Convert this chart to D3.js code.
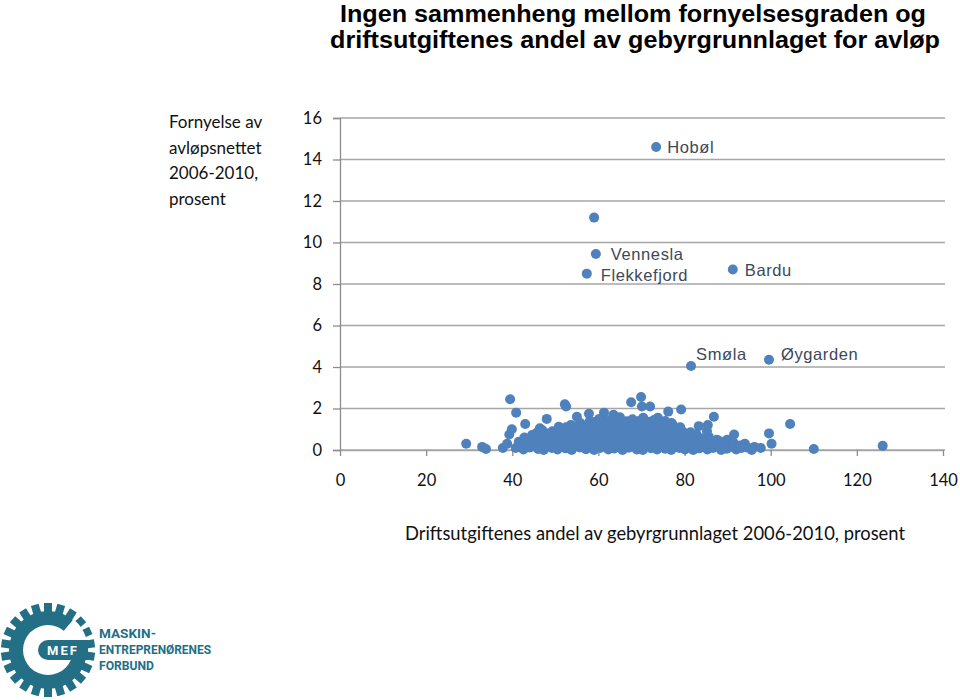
<!DOCTYPE html>
<html>
<head>
<meta charset="utf-8">
<script src="https://cdn.jsdelivr.net/npm/d3@7"></script>
<style>
  body { margin: 0; background: #fff; }
  svg { display: block; }
</style>
</head>
<body>
<div id="chart"></div>
<script>
// named municipalities (x = driftsutgifter andel, y = fornyelse)
var namedMunicipalities = ["Hobøl", "Vennesla", "Flekkefjord", "Bardu", "Smøla", "Øygarden"];
var namedX = [73.4, 59.4, 57.3, 91.2, 81.5, 99.6];
var namedY = [14.6, 9.45, 8.5, 8.7, 4.05, 4.35];

// unlabeled point above Vennesla
var loneX = [59.0];
var loneY = [11.2];

// the low cluster
var clusterPoints = [
  [29.3,0.3],[33.0,0.15],[33.9,0.05],[37.8,0.1],[38.8,0.3],[39.5,2.45],[40.9,1.8],[39.3,0.75],[39.9,1.0],
  [43.0,1.25],[46.4,1.05],[48.0,1.5],[50.0,0.8],[52.2,2.2],[52.5,2.1],[55.0,1.6],[57.8,1.75],[61.3,1.8],
  [63.5,1.7],[67.6,2.3],[69.9,2.55],[70.1,2.1],[72.0,2.1],[73.8,1.55],[76.2,1.85],[79.2,1.95],[83.3,1.15],
  [85.4,1.2],[86.8,1.6],[85.6,0.65],[85.2,0.9],[89.9,0.5],[91.5,0.75],[94.0,0.3],[97.7,0.1],[99.6,0.8],
  [100.2,0.3],[104.5,1.25],[110.0,0.05],[126.0,0.2],
  [40.8,0.1],[42.6,0.02],[44.1,0.12],[46.0,0.05],[47.3,0.0],[49.2,0.1],[50.5,0.03],[52.4,0.08],[53.8,0.0],
  [55.7,0.12],[57.1,0.04],[59.0,0.0],[60.4,0.1],[62.3,0.02],[63.7,0.07],[65.6,0.0],[67.0,0.11],[68.9,0.03],
  [70.3,0.0],[72.2,0.09],[73.6,0.02],[75.5,0.06],[76.9,0.0],[78.8,0.1],[80.1,0.03],[82.0,0.0],[83.4,0.08],
  [85.3,0.02],[86.6,0.1],[88.5,0.0],[89.8,0.06],[92.0,0.02],[93.2,0.1],[95.6,0.0],[96.2,0.15],
  [41.9,0.2],[43.7,0.22],[45.5,0.18],[47.9,0.2],[49.9,0.24],[51.6,0.17],[53.0,0.2],[54.8,0.23],[56.4,0.18],
  [58.2,0.21],[59.8,0.2],[61.5,0.24],[63.0,0.19],[64.8,0.2],[66.3,0.22],[68.0,0.18],[69.6,0.21],[71.4,0.2],
  [72.9,0.23],[74.7,0.18],[76.2,0.2],[78.0,0.22],[79.5,0.19],[81.2,0.2],[82.8,0.21],[84.5,0.18],[86.0,0.2],
  [87.8,0.17],[89.2,0.2],[91.0,0.15],[92.6,0.18],[94.5,0.12],
  [41.5,0.4],[43.4,0.33],[45.1,0.45],[46.8,0.3],[48.6,0.42],[50.2,0.36],[51.9,0.28],[53.5,0.44],[55.3,0.35],
  [56.9,0.4],[58.6,0.3],[60.1,0.46],[61.9,0.34],[63.4,0.4],[65.2,0.3],[66.7,0.43],[68.5,0.36],[70.0,0.3],
  [71.8,0.45],[73.3,0.35],[75.1,0.4],[76.6,0.3],[78.4,0.44],[79.9,0.33],[81.7,0.4],[83.2,0.28],[85.0,0.38],
  [86.4,0.3],[88.2,0.42],[89.6,0.25],[91.4,0.35],[93.0,0.22],
  [44.0,0.5],[46.3,0.52],[48.0,0.55],[49.8,0.5],[51.4,0.53],[53.0,0.5],[54.7,0.56],[56.5,0.5],[58.0,0.54],
  [59.8,0.52],[61.5,0.5],[63.1,0.55],[64.8,0.51],[66.4,0.5],[68.1,0.54],[69.7,0.52],[71.3,0.5],[73.0,0.55],
  [74.7,0.5],[76.3,0.53],[78.0,0.5],[79.6,0.52],[81.3,0.48],[82.9,0.5],[85.7,0.45],
  [42.8,0.6],[44.6,0.72],[47.4,0.62],[49.5,0.7],[51.1,0.6],[52.8,0.75],[54.5,0.65],[56.2,0.7],[57.9,0.6],
  [59.5,0.74],[61.2,0.66],[62.8,0.6],[64.5,0.72],[66.1,0.64],[67.8,0.7],[69.4,0.6],[71.1,0.75],[72.7,0.66],
  [74.4,0.6],[76.0,0.72],[77.7,0.62],[79.3,0.7],[81.0,0.58],[82.4,0.66],[84.0,0.55],[87.5,0.5],
  [45.6,0.82],[48.2,0.8],[50.4,0.85],[52.0,0.82],[53.9,0.8],[55.6,0.84],[57.2,0.82],[59.0,0.8],[60.6,0.85],
  [62.2,0.82],[64.0,0.8],[65.6,0.84],[67.2,0.82],[68.9,0.8],[70.5,0.85],[72.2,0.82],[73.8,0.8],[75.5,0.84],
  [77.1,0.8],[78.9,0.82],[80.4,0.78],[82.8,0.75],
  [47.0,0.95],[49.3,0.9],[51.6,1.02],[53.2,0.92],[55.0,1.0],[56.6,0.9],[58.3,1.05],[59.9,0.95],[61.6,0.9],
  [63.2,1.04],[64.9,0.94],[66.5,1.0],[68.2,0.9],[69.8,1.05],[71.5,0.95],[73.1,0.9],[74.8,1.02],[76.4,0.92],
  [78.1,0.98],[79.6,0.88],[81.4,0.85],
  [50.8,1.12],[52.5,1.1],[54.3,1.14],[56.0,1.1],[57.8,1.12],[59.5,1.15],[61.2,1.1],[62.9,1.12],[64.5,1.14],
  [66.2,1.1],[67.9,1.12],[69.6,1.15],[71.2,1.1],[72.9,1.12],[74.5,1.1],[76.2,1.12],[77.9,1.05],
  [53.6,1.2],[55.8,1.3],[57.4,1.22],[59.2,1.35],[60.8,1.25],[62.5,1.2],[64.1,1.32],[65.8,1.24],[67.4,1.3],
  [69.1,1.2],[70.7,1.34],[72.4,1.25],[74.0,1.2],[75.7,1.3],[77.4,1.18],[79.0,1.1],
  [58.0,1.4],[61.5,1.38],[64.0,1.42],[66.6,1.38],[69.4,1.4],[71.8,1.36],[74.3,1.35],[77.0,1.3],
  [60.2,1.5],[62.8,1.45],[65.0,1.58],[67.9,1.48],[70.4,1.55],[72.9,1.45],[75.5,1.4]
];

var xTicks = [0, 20, 40, 60, 80, 100, 120, 140];
var yTicks = [0, 2, 4, 6, 8, 10, 12, 14, 16];

var titleLines = ["Ingen sammenheng mellom fornyelsesgraden og",
                  "driftsutgiftenes andel av gebyrgrunnlaget for avløp"];
var yTitleLines = ["Fornyelse av", "avløpsnettet", "2006-2010,", "prosent"];
var xTitle = "Driftsutgiftenes andel av gebyrgrunnlaget 2006-2010, prosent";

// label placement relative to the dot (px)
var labelOffset = {
  "Hobøl": [11, 6], "Vennesla": [15, 6], "Flekkefjord": [14, 7],
  "Bardu": [12, 7], "Smøla": [5, -6], "Øygarden": [12, 0]
};

var dotColor = "#4f81bd";
var gridColor = "#a6a6a6";
var logoColor = "#226f86";

var svg = d3.select("#chart").append("svg")
  .attr("width", 960).attr("height", 700);

var x = d3.scaleLinear().domain([0, 140]).range([340, 943]);
var y = d3.scaleLinear().domain([0, 16]).range([450, 118]);

// title
svg.append("g").selectAll("text")
  .data(titleLines)
  .enter().append("text")
  .attr("x", function (d, i) { return i == 0 ? 340 : 330; })
  .attr("y", function (d, i) { return i == 0 ? 22 : 48; })
  .attr("textLength", function (d, i) { return i == 0 ? 586 : 610; })
  .attr("lengthAdjust", "spacingAndGlyphs")
  .style("font-family", "'Liberation Sans', Arial, sans-serif")
  .style("font-weight", "bold")
  .style("font-size", "23px")
  .style("fill", "#000")
  .text(function (d) { return d; });

// y title
svg.append("g").selectAll("text")
  .data(yTitleLines)
  .enter().append("text")
  .attr("x", 169)
  .attr("y", function (d, i) { return 128 + i * 25.7; })
  .style("font-family", "Lato, 'Open Sans', sans-serif")
  .style("font-size", "17px")
  .style("fill", "#111")
  .text(function (d) { return d; });

// gridlines
svg.append("g").selectAll("line")
  .data(yTicks)
  .enter().append("line")
  .attr("x1", x(0)).attr("x2", 945)
  .attr("y1", function (d) { return y(d); })
  .attr("y2", function (d) { return y(d); })
  .style("stroke", gridColor)
  .style("stroke-width", 1.6);

// y axis
var yAxis = svg.append("g")
  .attr("transform", "translate(" + x(0) + ",0)")
  .call(d3.axisLeft(y).tickValues(yTicks).tickSize(7).tickPadding(11).tickFormat(d3.format("d")));
yAxis.select(".domain").style("stroke", "#8c8c8c").style("stroke-width", 1.3);
yAxis.selectAll(".tick line").style("stroke", "#8c8c8c").style("stroke-width", 1.3);
yAxis.selectAll("text")
  .style("font-family", "Lato, 'Open Sans', sans-serif")
  .style("font-size", "16.5px")
  .style("fill", "#111");

// x axis
var xAxis = svg.append("g")
  .attr("transform", "translate(0," + y(0) + ")")
  .call(d3.axisBottom(x).tickValues(xTicks).tickSize(6).tickPadding(18).tickSizeOuter(0));
xAxis.select(".domain").style("stroke", gridColor).style("stroke-width", 1.6);
xAxis.selectAll(".tick line").style("stroke", "#8c8c8c").style("stroke-width", 1.3);
xAxis.selectAll("text")
  .style("font-family", "Lato, 'Open Sans', sans-serif")
  .style("font-size", "16.5px")
  .style("fill", "#111");

// x title
svg.append("text")
  .attr("x", 405).attr("y", 540)
  .attr("textLength", 500)
  .attr("lengthAdjust", "spacingAndGlyphs")
  .style("font-family", "Lato, 'Open Sans', sans-serif")
  .style("font-size", "18.5px")
  .style("fill", "#111")
  .text(xTitle);

// points
var dots = svg.append("g");
dots.selectAll(".cluster")
  .data(clusterPoints)
  .enter().append("circle")
  .attr("class", "cluster")
  .attr("cx", function (d) { return x(d[0]); })
  .attr("cy", function (d) { return y(d[1]); })
  .attr("r", 5)
  .style("fill", dotColor);

dots.selectAll(".lone")
  .data(loneX)
  .enter().append("circle")
  .attr("class", "lone")
  .attr("cx", function (d) { return x(d); })
  .attr("cy", function (d, i) { return y(loneY[i]); })
  .attr("r", 5)
  .style("fill", dotColor);

var named = namedMunicipalities.map(function (n, i) { return { name: n, x: namedX[i], y: namedY[i] }; });

dots.selectAll(".named")
  .data(named)
  .enter().append("circle")
  .attr("class", "named")
  .attr("cx", function (d) { return x(d.x); })
  .attr("cy", function (d) { return y(d.y); })
  .attr("r", 5)
  .style("fill", dotColor);

svg.append("g").selectAll("text")
  .data(named)
  .enter().append("text")
  .attr("x", function (d) { return x(d.x) + labelOffset[d.name][0]; })
  .attr("y", function (d) { return y(d.y) + labelOffset[d.name][1]; })
  .style("font-family", "'Liberation Sans', Arial, sans-serif")
  .style("font-size", "16.5px")
  .style("letter-spacing", "0.6px")
  .style("fill", "#3c4858")
  .text(function (d) { return d.name; });

// MEF logo
var logo = svg.append("g").attr("transform", "translate(48,650)");
logo.selectAll(".tooth")
  .data(d3.range(22))
  .enter().append("rect")
  .attr("x", -4).attr("y", -47)
  .attr("width", 8).attr("height", 12)
  .attr("transform", function (d) { return "rotate(" + (d * 360 / 22) + ")"; })
  .style("fill", logoColor);
logo.append("circle").attr("r", 39).style("fill", logoColor);
logo.append("circle").attr("r", 25).style("fill", "#fff");
logo.append("path")
  .attr("d", d3.arc().innerRadius(22).outerRadius(40).startAngle(Math.PI * 0.22).endAngle(Math.PI * 0.42)())
  .style("fill", "#fff");
logo.append("rect")
  .attr("x", -10).attr("y", -10)
  .attr("width", 48).attr("height", 20)
  .attr("rx", 10)
  .style("fill", logoColor);
logo.append("rect")
  .attr("x", 20).attr("y", -10)
  .attr("width", 20).attr("height", 20)
  .style("fill", logoColor);
logo.append("text")
  .attr("x", 15).attr("y", 5)
  .attr("text-anchor", "middle")
  .style("font-family", "Roboto, 'DejaVu Sans', sans-serif")
  .style("font-weight", "bold")
  .style("font-size", "13px")
  .style("letter-spacing", "2px")
  .style("fill", "#fff")
  .text("MEF");

var logoText = ["MASKIN-", "ENTREPRENØRENES", "FORBUND"];
svg.append("g").selectAll("text")
  .data(logoText)
  .enter().append("text")
  .attr("x", 99)
  .attr("y", function (d, i) { return 638 + i * 16; })
  .attr("textLength", function (d, i) { return [57, 112, 55][i]; })
  .attr("lengthAdjust", "spacingAndGlyphs")
  .style("font-family", "Roboto, 'DejaVu Sans', sans-serif")
  .style("font-weight", "bold")
  .style("font-size", "12px")
  .style("fill", logoColor)
  .text(function (d) { return d; });
</script>
</body>
</html>
